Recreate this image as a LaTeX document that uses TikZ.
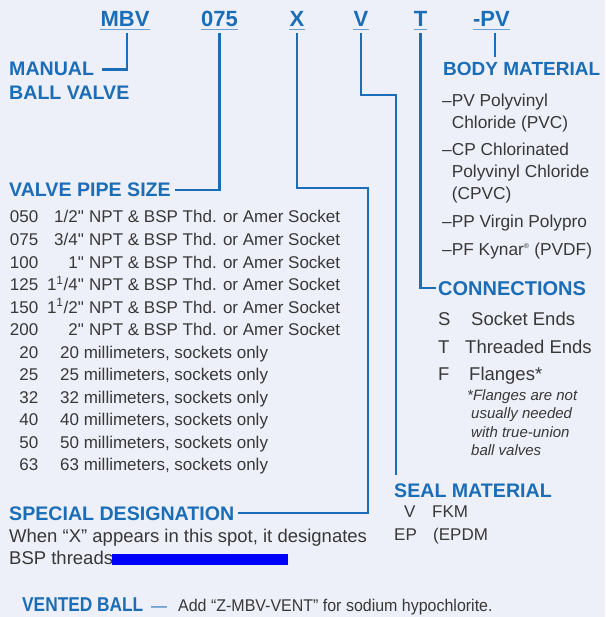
\documentclass[tikz,border=0pt]{standalone}
\usepackage{fontspec}
\setmainfont{Liberation Sans}[Ligatures=TeXOff]
\usetikzlibrary{positioning}
\definecolor{brand}{HTML}{1A6DB6}
\definecolor{ink}{HTML}{383838}
\definecolor{paper}{HTML}{EDF0F8}
\begin{document}
\begin{tikzpicture}[x=1pt,y=-1pt,
  code/.style={font=\fontsize{22}{26}\selectfont\bfseries,text=brand,inner sep=0pt,anchor=base},
  head/.style={font=\fontsize{19.6}{22}\selectfont\bfseries,text=brand,inner sep=0pt,anchor=base west},
  txt/.style={font=\fontsize{17}{20}\selectfont,text=ink,inner sep=0pt,anchor=base west},
  note/.style={font=\fontsize{15}{18}\selectfont\itshape,text=ink,inner sep=0pt,anchor=base west},
  lead/.style={draw=brand,line width=2.4pt},
  uline/.style={draw=brand!65,line width=1.3pt}
]
  \fill[paper] (0,0) rectangle (605,617);
  \node[code] (mbv) at (125,27) {MBV};
  \node[code] (size) at (219.5,27) {075};
  \node[code] (spec) at (297,27) {X};
  \node[code] (seal) at (361,27) {V};
  \node[code] (conn) at (420.5,27) {T};
  \node[code] (body) at (491.5,27) {-PV};
  \foreach \n in {mbv,size,spec,seal,conn,body}
    \draw[uline] ([yshift=-2.5pt]\n.base west) -- ([yshift=-2.5pt]\n.base east);

  \node[head] (manual) at (9,76) {MANUAL};
  \node[head] (ballvalve) at (9,100) {BALL VALVE};
  \node[head] (pipesize) at (9,196.5) {VALVE PIPE SIZE};
  \node[head] (special) at (9,520) {SPECIAL DESIGNATION};
  \node[head,font=\fontsize{19}{22}\selectfont\bfseries] (bodymat) at (443,76) {BODY MATERIAL};
  \node[head,font=\fontsize{20}{22}\selectfont\bfseries] (connections) at (438,295) {CONNECTIONS};
  \node[head] (sealmat) at (394,497) {SEAL MATERIAL};
  \node[head,font=\fontsize{20}{22}\selectfont\bfseries\addfontfeature{FakeStretch=0.865}] (vented) at (22,611.5) {VENTED BALL};

  \foreach \c/\s [count=\i] in {050/{1/2"},075/{3/4"},100/{1"},
      125/{1\textsuperscript{1}/4"},150/{1\textsuperscript{1}/2"},200/{2"}} {
    \node[txt,anchor=base east] (c\i) at (38.5,223+22.5*\i-22.5) {\c};
    \node[txt,anchor=base east] (s\i) at (84,223+22.5*\i-22.5) {\s};
    \node[txt] (d\i) at (89,223+22.5*\i-22.5) {NPT \& BSP Thd. or Amer Socket};
  }
  \foreach \c [count=\i from 7] in {20,25,32,40,50,63} {
    \node[txt,anchor=base east] (c\i) at (38.5,223+22.5*\i-22.5) {\c};
    \node[txt] (d\i) at (60,223+22.5*\i-22.5) {\c{} millimeters, sockets only};
  }

  \foreach \y/\t [count=\i] in {107/–PV Polyvinyl,129/\hphantom{–}Chloride (PVC),
      156/–CP Chlorinated,178/\hphantom{–}Polyvinyl Chloride,200/\hphantom{–}(CPVC),
      228/–PP Virgin Polypro,255/–PF Kynar\textsuperscript{\scriptsize®} (PVDF)}
    \node[txt,font=\fontsize{17.3}{20}\selectfont] (b\i) at (442,\y) {\t};

  \node[txt,font=\fontsize{18.5}{20}\selectfont] (sk) at (438,325) {S};
  \node[txt,font=\fontsize{18.5}{20}\selectfont] (skt) at (471,325) {Socket Ends};
  \node[txt,font=\fontsize{18.5}{20}\selectfont] (th) at (438,353) {T};
  \node[txt,font=\fontsize{18.5}{20}\selectfont] (tht) at (465,353) {Threaded Ends};
  \node[txt,font=\fontsize{18.5}{20}\selectfont] (fl) at (438,380) {F};
  \node[txt,font=\fontsize{18.5}{20}\selectfont] (flt) at (469,380) {Flanges*};
  \node[note] (n1) at (467,400) {*Flanges are not};
  \node[note] (n2) at (471,418.5) {usually needed};
  \node[note] (n3) at (471,437) {with true-union};
  \node[note] (n4) at (471,455.5) {ball valves};

  \node[txt] (fkm) at (404,517.5) {V};
  \node[txt] (fkmt) at (432,517.5) {FKM};
  \node[txt] (ep) at (394,540.5) {EP};
  \node[txt] (ept) at (433,540.5) {(EPDM};

  \node[txt,font=\fontsize{18.5}{20}\selectfont] (when) at (9,542) {When “X” appears in this spot, it designates};
  \node[txt,font=\fontsize{18.5}{20}\selectfont] (bsp) at (9,564.5) {BSP threads};
  \fill[blue] (112,554) rectangle (288,564.5);

  \node[txt,text=brand,font=\fontsize{16}{20}\selectfont] (dash) at (151,611.5) {—};
  \node[txt,font=\fontsize{17}{20}\selectfont\addfontfeature{FakeStretch=0.94}] (add) at (178,611.5) {Add “Z-MBV-VENT” for sodium hypochlorite.};

  \coordinate (xturn) at (368,188);
  \coordinate (vturn) at (396,95);
  \coordinate (pvfoot) at ([xshift=3.5pt,yshift=-6pt]body.base);
  \coordinate (pvend) at ([yshift=5.5pt]bodymat.north);
  \coordinate (vend) at ([yshift=8pt]sealmat.north);
  \draw[lead] ([xshift=2pt,yshift=-6pt]mbv.base) |- ([xshift=8pt]manual.east);
  \draw[lead] ([yshift=-6pt]size.base) |- ([xshift=4pt]pipesize.east);
  \draw[lead] ([yshift=-6pt]spec.base) |- (xturn) |- ([xshift=4pt]special.east);
  \draw[lead] ([yshift=-6pt]seal.base) |- (vturn) -- (vturn |- vend);
  \draw[lead] ([yshift=-6pt]conn.base) |- ([xshift=-2pt]connections.west);
  \draw[lead] (pvfoot) -- (pvfoot |- pvend);
\end{tikzpicture}
\end{document}
